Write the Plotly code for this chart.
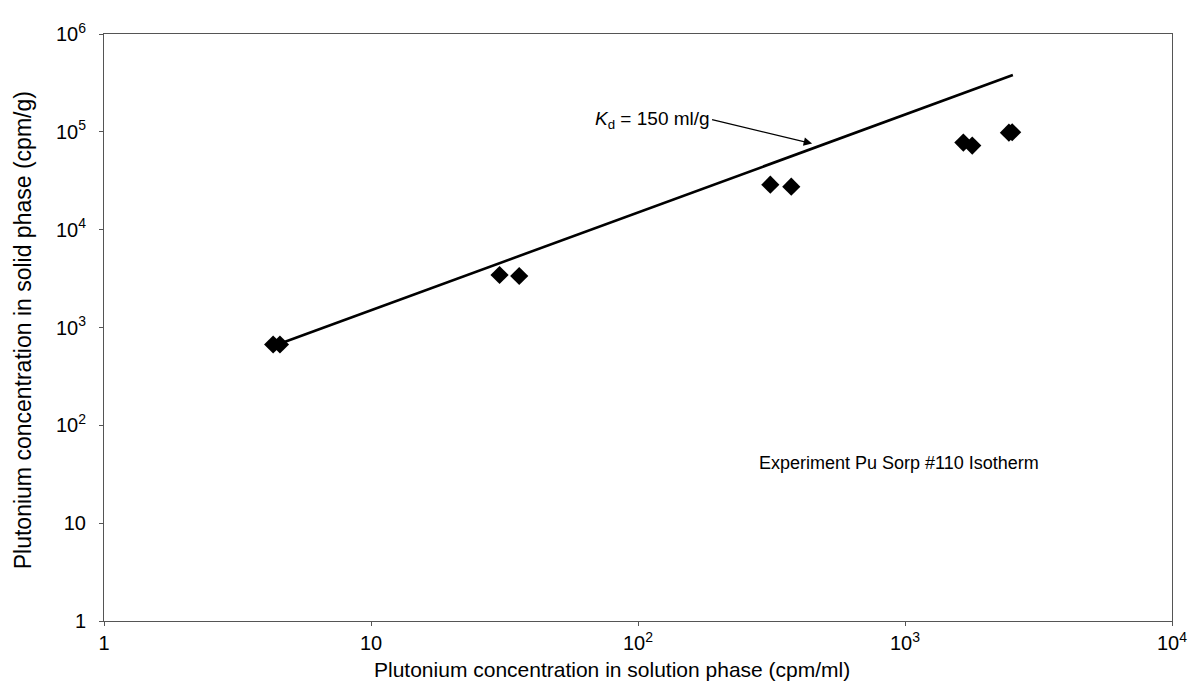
import plotly.graph_objects as go

# Measured sorption data
x_solution = [4.30, 4.56, 30.3, 35.9, 313, 375, 1654, 1786, 2450, 2520]
y_solid = [670, 670, 3440, 3360, 28800, 27500, 77600, 72400, 98000, 99000]

# Linear isotherm Kd = 150 ml/g
kd = 150
x_line = [4.6, 25, 1700, 2535]
y_line = [kd * v for v in x_line]

x_tickvals = [1, 10, 100, 1000, 10000]
x_ticktext = ["1", "10", "10<sup>2</sup>", "10<sup>3</sup>", "10<sup>4</sup>"]
y_tickvals = [1, 10, 100, 1000, 10000, 100000, 1000000]
y_ticktext = ["1", "10", "10<sup>2</sup>", "10<sup>3</sup>", "10<sup>4</sup>", "10<sup>5</sup>", "10<sup>6</sup>"]

FONT = "Liberation Sans, Arial, sans-serif"

# The page body adds an 8px margin, so the figure is sized to fit inside the window
fig_w, fig_h = 1191, 674
plot_l, plot_r, plot_t, plot_b = 96, 16, 14, 61
plot_w = fig_w - plot_l - plot_r
plot_h = fig_h - plot_t - plot_b

fig = go.Figure()
fig.add_trace(go.Scatter(x=x_line, y=y_line, mode="lines",
                         line=dict(color="black", width=2.6), showlegend=False))
fig.add_trace(go.Scatter(x=x_solution, y=y_solid, mode="markers",
                         marker=dict(symbol="diamond", size=14, color="black"),
                         showlegend=False))

fig.add_annotation(x=2.652, y=4.88, xref="x", yref="y",
                   ax=-100, ay=-24, axref="pixel", ayref="pixel",
                   showarrow=True, arrowhead=2, arrowsize=1.4, arrowwidth=1.2,
                   arrowcolor="black",
                   text="<i>K</i><sub>d</sub> = 150 ml/g", xanchor="right",
                   font=dict(family=FONT, size=19, color="black"))

fig.add_annotation(x=2.445, y=1.62, xref="x", yref="y", showarrow=False,
                   xanchor="left",
                   text="Experiment Pu Sorp #110 Isotherm",
                   font=dict(family=FONT, size=18, color="black"))

# Axis titles
fig.add_annotation(x=0.476, y=-49 / plot_h, xref="paper", yref="paper",
                   xanchor="center", yanchor="middle",
                   showarrow=False, text="Plutonium concentration in solution phase (cpm/ml)",
                   font=dict(family=FONT, size=21, color="black"))
fig.add_annotation(x=-81 / plot_w, y=0.495, xref="paper", yref="paper", showarrow=False,
                   xanchor="center", yanchor="middle",
                   textangle=-90,
                   text="Plutonium concentration in solid phase (cpm/g)",
                   font=dict(family=FONT, size=23, color="black"))

axis_common = dict(showgrid=False, zeroline=False, showline=True, linecolor="#555",
                   linewidth=1, mirror=True, ticks="outside", ticklen=4,
                   tickcolor="#555", ticklabeloverflow="allow",
                   tickfont=dict(family=FONT, size=20, color="black"))

fig.update_layout(
    width=fig_w, height=fig_h,
    paper_bgcolor="white", plot_bgcolor="white",
    margin=dict(l=plot_l, r=plot_r, t=plot_t, b=plot_b),
    xaxis=dict(type="log", range=[0, 4], tickvals=x_tickvals, ticktext=x_ticktext,
               ticklabelstandoff=0, **axis_common),
    yaxis=dict(type="log", range=[0, 6], tickvals=y_tickvals, ticktext=y_ticktext,
               ticklabelstandoff=9, **axis_common),
)

fig.write_html("out.html")
